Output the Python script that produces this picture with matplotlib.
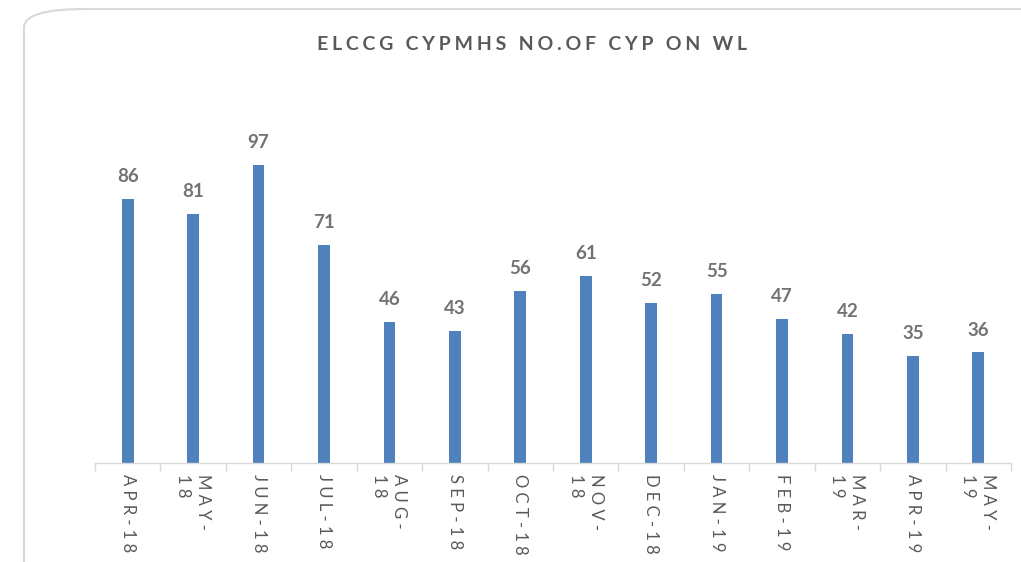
import matplotlib.pyplot as plt
from matplotlib.patches import FancyBboxPatch

# data
months = ["APR-18", "MAY-\n18", "JUN-18", "JUL-18", "AUG-\n18", "SEP-18", "OCT-18",
          "NOV-\n18", "DEC-18", "JAN-19", "FEB-19", "MAR-\n19", "APR-19", "MAY-\n19"]
cyp_on_wl = [86, 81, 97, 71, 46, 43, 56, 61, 52, 55, 47, 42, 35, 36]

FONT = ['Lato', 'DejaVu Sans']
plt.rcParams['font.family'] = FONT


def spaced(s, sep=" "):
    # mimic the wide letter spacing of the original
    return "\n".join(sep.join(line) for line in s.split("\n"))


fig = plt.figure(figsize=(10.21, 5.62), dpi=100)

# rounded chart frame, running off the right and bottom edges
frame = FancyBboxPatch((24 / 1021, -0.2), 1.2, 1.2 - 9 / 562,
                       boxstyle="round,pad=0,rounding_size=0.06",
                       transform=fig.transFigure, facecolor='none',
                       edgecolor='#d9d9d9', linewidth=1.5, zorder=-1,
                       mutation_aspect=562 / 1021)
fig.patches.append(frame)

ax = fig.add_axes([95 / 1021, 1 - 463 / 562, (1011 - 95) / 1021, (463 - 100) / 562])
ax.patch.set_alpha(0)

x = range(len(months))
bars = ax.bar(x, cyp_on_wl, width=0.18, color='#4f81bd')

for xi, v in zip(x, cyp_on_wl):
    ax.annotate(str(v), (xi, v), xytext=(0, 10), textcoords='offset points',
                ha='center', va='bottom', fontsize=13.5, fontweight='bold',
                color='#737373')

ax.set_xlim(-0.5, len(months) - 0.5)
ax.set_ylim(0, 118.2)

ax.set_xticks(list(x))
ax.set_xticklabels([spaced(m) for m in months], rotation=270, fontsize=12,
                   color='#595959', va='top', ha='center', multialignment='left',
                   linespacing=1.3)
ax.tick_params(axis='x', length=0, pad=8)
ax.set_xticks([i - 0.5 for i in range(len(months) + 1)], minor=True)
ax.tick_params(axis='x', which='minor', length=6, color='#d9d9d9', width=1)
ax.set_yticks([])

for s in ['left', 'right', 'top']:
    ax.spines[s].set_visible(False)
ax.spines['bottom'].set_color('#d9d9d9')
ax.spines['bottom'].set_linewidth(1)

fig.text(532 / 1021, 1 - 45 / 562, spaced("ELCCG CYPMHS NO.OF CYP ON WL", "\u2009\u200a"),
         ha='center', va='center', fontsize=14, fontweight='bold', color='#595959')

fig.savefig('out.png', dpi=100)
